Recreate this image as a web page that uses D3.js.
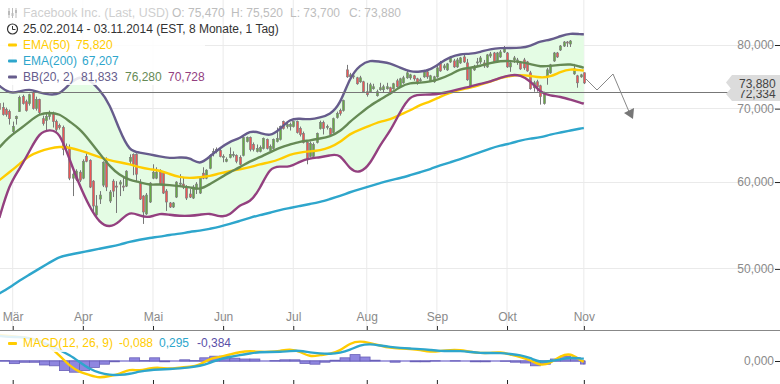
<!DOCTYPE html>
<html>
<head>
<meta charset="utf-8">
<script src="https://d3js.org/d3.v7.min.js"></script>
<style>
  html, body { margin: 0; padding: 0; background: #fff; }
  svg { display: block; }
  text { font-family: "Liberation Sans", Arial, sans-serif; font-size: 12px; }
  .axis path { display: none; }
  .axis text { fill: #8a8a8a; font-size: 12px; }
  .axis line { stroke: #222; }
</style>
</head>
<body>
<script>
// trading days, 0 = 25.02.2014, 175 = 03.11.2014
const monthDays = [4, 25, 46, 67, 88, 110, 131, 152, 175];
const monthLabels = ["Mär", "Apr", "Mai", "Jun", "Jul", "Aug", "Sep", "Okt", "Nov"];
const priceTicks = [80, 70, 60, 50];

const opens = [70.74,70.15,69.85,69.56,66.71,68.54,69.56,71.78,71.03,70.74,
72.38,70.00,71.33,68.54,68.26,68.83,69.27,68.12,67.55,67.27,
64.65,64.52,60.49,60.36,61.25,60.49,63.32,62.80,60.11,56.00,
57.90,59.61,62.67,57.66,60.11,59.49,59.74,59.49,59.49,62.67,
63.59,63.59,59.99,58.26,56.12,57.54,60.49,60.49,61.25,61.25,
58.87,57.42,56.94,58.14,59.74,59.74,59.37,58.51,58.02,59.12,
58.63,61.12,60.49,61.76,63.85,63.99,64.12,63.19,62.67,63.19,
63.46,63.46,63.19,63.46,65.33,65.88,64.92,63.99,63.99,64.39,
65.61,64.12,64.39,65.33,65.61,68.12,67.41,67.41,67.41,68.12,
67.13,66.43,65.20,63.32,63.32,65.20,67.13,67.97,67.27,67.13,
66.57,68.69,69.71,69.71,75.93,74.83,74.83,74.68,74.06,74.06,
72.53,72.53,72.99,71.93,72.84,72.84,72.99,73.14,72.99,74.21,
73.29,73.90,74.68,74.68,74.99,74.52,74.21,74.83,75.62,74.21,
74.06,74.83,77.05,76.25,75.93,77.21,77.37,76.41,77.05,78.02,
77.05,73.44,75.93,77.05,77.21,77.05,76.41,78.18,78.67,77.37,
78.02,78.84,78.67,76.41,77.53,77.21,77.05,77.53,77.21,75.46,
73.14,74.06,73.44,70.74,74.99,75.46,77.37,78.67,79.17,79.83,
80.50,80.17,75.30,74.99,74.83,75.47];
const closes = [69.85,69.12,69.12,68.54,67.41,68.83,71.63,70.74,69.71,72.08,
70.00,71.33,69.41,67.83,68.83,69.41,68.12,66.99,67.27,64.25,
64.39,60.49,61.00,61.38,60.24,62.67,62.67,59.37,57.06,57.06,
58.38,62.54,59.37,58.75,58.87,59.37,59.99,59.37,61.38,63.19,
62.28,61.00,57.90,56.35,58.38,59.86,61.25,61.25,59.74,58.63,
57.54,56.94,57.42,59.99,59.86,59.37,58.02,58.14,59.37,59.74,
60.49,60.49,61.51,63.46,63.99,64.25,63.32,63.32,62.93,63.59,
63.59,62.67,62.28,65.88,65.88,64.25,64.25,64.39,64.52,65.74,
64.39,64.65,65.61,65.74,67.41,67.13,67.69,67.69,68.12,66.57,
66.30,65.20,62.93,65.06,64.92,66.43,67.97,67.13,67.41,66.30,
68.54,69.27,69.27,71.18,74.83,75.14,74.99,73.75,74.68,72.53,
72.08,73.60,73.29,72.53,73.14,73.29,73.29,72.38,73.75,73.29,
74.52,74.68,75.46,75.14,74.52,73.90,74.37,75.62,74.83,74.99,
74.83,76.25,75.77,76.57,76.89,77.86,76.41,77.53,77.86,77.21,
74.37,76.09,76.41,77.21,77.86,76.57,78.35,78.51,77.21,78.67,
78.84,79.50,76.41,77.05,77.86,77.53,76.09,76.25,75.77,72.99,
73.90,73.29,71.78,72.38,75.93,76.73,78.67,78.02,79.83,80.50,
80.33,80.67,76.09,73.90,75.14,73.88];
const highs = [71.33,70.89,70.15,69.85,68.12,68.98,71.93,72.08,71.33,72.23,
72.68,71.78,71.48,68.98,69.27,69.71,69.56,68.40,67.83,67.55,
65.06,64.92,61.25,61.63,61.51,62.93,63.85,62.93,60.24,58.38,
58.87,62.67,63.19,59.00,60.36,60.11,60.24,60.74,61.51,63.59,
63.72,63.72,60.36,58.38,58.63,59.99,62.28,61.89,61.63,61.38,
59.12,57.54,57.54,60.11,61.00,60.62,59.61,59.12,59.61,59.99,
60.62,61.89,61.63,63.59,64.39,64.52,64.39,63.59,63.19,64.52,
63.99,63.59,63.46,66.02,66.02,66.02,65.20,64.92,64.79,65.88,
65.74,64.92,65.74,67.27,67.55,68.26,67.97,67.97,68.26,68.26,
67.41,66.71,65.33,65.33,65.20,66.57,68.26,68.26,67.69,67.27,
68.69,69.56,70.00,71.33,76.73,75.46,75.30,74.83,74.99,74.21,
73.90,73.90,73.75,72.84,73.90,73.60,73.90,73.29,73.90,74.52,
74.68,74.99,75.77,75.30,75.14,74.68,74.68,75.93,75.77,75.14,
74.99,76.57,77.37,76.89,77.05,78.18,77.70,77.86,78.02,78.35,
77.70,76.25,76.73,77.86,78.18,77.53,78.51,78.84,78.84,78.84,
79.17,79.83,78.84,77.53,78.18,77.86,77.37,77.86,77.37,75.77,
74.21,74.37,73.60,72.53,76.25,76.89,78.84,78.84,80.00,80.67,
80.67,80.84,76.89,75.14,75.30,75.52];
const lows = [69.56,68.98,68.83,67.69,66.30,67.69,69.56,70.59,69.56,70.44,
69.85,69.71,69.12,67.55,66.71,68.40,67.27,66.71,66.99,63.46,
63.99,60.24,58.26,60.11,59.99,60.36,62.54,59.24,56.35,55.88,
57.30,59.37,58.87,57.42,58.14,56.23,58.26,58.87,59.37,62.28,
60.87,60.11,57.78,54.95,56.00,57.42,60.36,60.36,59.61,58.51,
56.47,56.82,56.82,58.02,59.37,59.12,57.78,58.02,57.90,58.51,
58.51,60.36,60.36,61.63,63.32,63.72,63.19,62.54,62.54,63.06,
63.19,62.41,62.15,63.32,65.20,63.99,63.99,63.85,63.85,64.25,
64.25,63.99,64.25,65.20,65.47,66.99,67.13,66.85,67.27,66.43,
66.02,65.06,62.28,63.19,63.19,65.06,66.99,66.30,66.99,66.16,
66.43,68.54,68.98,69.56,74.68,74.68,74.52,73.60,73.90,72.38,
71.78,72.38,72.84,71.78,72.68,72.38,72.84,72.08,72.84,73.14,
73.14,73.75,74.52,74.37,74.21,73.60,74.06,74.68,74.52,74.06,
73.90,74.68,75.62,75.93,75.77,77.05,76.25,76.25,76.89,77.05,
74.21,73.29,75.77,76.73,76.89,76.25,76.25,77.86,77.05,77.21,
77.86,78.67,76.25,75.62,77.05,76.73,75.93,75.93,75.62,72.84,
72.53,72.53,70.59,70.59,73.60,75.30,77.21,77.86,79.00,79.67,
79.67,79.67,75.14,73.14,74.68,73.70];

const lineDays = [0,3,6,9,12,15,18,21,24,27,30,33,36,39,42,45,48,51,54,57,
60,63,66,69,72,75,78,81,84,87,90,93,96,99,102,105,108,111,114,117,
120,123,126,129,132,135,138,141,144,147,150,153,156,159,162,165,168,171,174,175];

const ema50 = [60.24,61.25,62.28,63.46,63.99,64.39,64.65,64.52,64.12,63.72,
63.19,62.80,62.54,62.28,61.89,61.63,61.51,61.00,60.62,60.49,
60.62,60.74,61.12,61.38,61.63,61.89,62.28,62.54,62.93,63.59,
63.85,63.99,64.12,64.52,65.20,66.43,66.99,67.55,68.12,68.40,
69.12,69.71,70.59,71.03,71.78,72.38,72.84,73.14,73.60,74.06,
74.68,74.99,75.14,74.99,74.68,74.83,75.62,76.09,75.85,75.82];
const ema200 = [47.48,48.08,48.79,49.40,50.03,50.66,51.30,51.51,51.73,51.94,
52.16,52.38,52.60,52.93,53.15,53.37,53.49,53.71,53.82,54.05,
54.16,54.39,54.62,54.95,55.30,55.65,56.00,56.23,56.59,56.82,
57.06,57.30,57.54,57.90,58.26,58.75,59.12,59.49,59.86,60.24,
60.49,60.87,61.25,61.63,62.15,62.54,62.93,63.46,63.85,64.39,
64.79,65.06,65.47,65.74,65.88,66.30,66.57,66.85,67.13,67.21];
const bbUpper = [73.44,72.23,72.53,72.99,72.38,72.08,72.08,73.75,74.99,74.37,
72.84,70.74,66.85,63.99,63.85,63.59,63.32,63.06,63.19,63.19,
62.15,63.32,64.39,65.33,65.74,66.85,66.57,66.02,66.99,68.54,
68.54,68.40,68.69,69.12,70.59,74.83,76.73,77.53,77.21,77.05,
76.25,75.62,75.62,75.93,77.05,78.02,78.51,78.51,78.84,79.33,
79.50,79.50,79.50,79.83,80.67,80.84,81.51,82.02,81.80,81.83];
const bbMiddle = [64.52,66.02,66.99,68.12,69.27,69.41,69.27,68.12,67.13,65.47,
63.72,62.02,60.87,60.24,59.99,59.61,59.74,59.61,59.49,59.37,
59.00,59.74,60.49,61.25,61.89,62.67,63.19,63.85,64.52,64.92,
65.33,65.47,65.74,66.02,66.71,68.12,69.27,70.44,71.33,72.23,
73.29,73.90,73.90,74.06,74.52,75.14,76.09,76.25,76.57,77.05,
77.37,77.37,77.21,76.89,76.41,76.57,76.73,76.89,76.41,76.28];
const bbLower = [55.65,59.74,61.63,63.99,66.57,66.99,66.71,62.93,59.61,56.94,
55.07,54.50,55.18,56.47,55.88,55.65,56.23,56.00,55.88,55.88,
56.00,56.23,55.77,55.88,57.30,57.42,59.12,61.89,62.02,61.89,
62.67,63.06,63.19,63.46,63.72,61.51,61.12,62.28,64.92,66.71,
69.56,71.93,72.08,72.08,72.23,72.53,72.99,73.29,73.75,74.06,
74.68,75.14,75.14,74.21,72.38,71.93,71.78,71.33,70.89,70.73];

const macdLine = [3.25,3.13,3.00,2.88,2.63,1.75,0.75,-0.63,-1.38,-1.75,
-2.13,-1.88,-1.63,-1.00,-1.25,-0.88,-0.81,-1.00,-0.81,-0.75,
-0.50,0.31,0.50,0.81,1.13,1.25,1.13,1.13,1.25,1.50,
1.19,0.50,0.75,0.88,1.25,2.25,2.50,2.25,1.94,1.63,
1.56,1.50,1.38,1.13,1.25,1.38,1.38,1.13,1.00,1.00,
1.13,0.81,0.50,0.13,-0.63,-0.25,0.63,1.00,0.06,-0.088];
const macdSignal = [3.13,3.00,3.00,2.88,2.50,2.00,1.38,0.75,-0.13,-1.00,
-1.50,-1.75,-1.75,-1.63,-1.31,-1.13,-1.06,-1.00,-0.94,-0.81,
-0.63,-0.25,0.25,0.50,0.75,0.94,1.13,1.13,1.13,1.25,
1.31,1.06,0.94,0.88,1.00,1.38,2.00,2.13,1.94,1.75,
1.63,1.56,1.50,1.38,1.25,1.25,1.25,1.13,1.00,1.00,
1.00,0.88,0.75,0.38,-0.19,0.00,0.19,0.44,0.31,0.295];
const macdHist = [0.05,-0.33,-0.16,-0.16,-0.50,-0.60,-1.20,-1.40,-1.20,-0.80,
-0.40,-0.10,0.00,0.40,0.05,0.40,-0.10,0.00,0.15,0.05,
0.40,0.60,0.60,0.35,0.25,0.25,0.00,0.05,0.15,0.15,
-0.30,-0.40,-0.15,0.10,0.40,0.80,0.50,0.10,0.00,-0.15,
0.00,-0.10,-0.10,0.03,0.00,0.03,0.00,-0.10,-0.10,0.00,
-0.03,-0.15,-0.25,-0.60,-0.40,0.25,0.60,0.40,-0.384,-0.384];

const width = 780;
const height = 384;

const svg = d3.select("body").append("svg")
  .attr("width", width)
  .attr("height", height);

const x = d3.scaleLinear().domain([0, 175]).range([-0.66, 583.84]);
const y = d3.scaleLog().domain([80, 50]).range([45, 268.9]);
const yMacd = d3.scaleLinear().domain([-1, 1]).range([369, 353]);

// grid
svg.append("g").selectAll("line").data(monthDays).enter().append("line")
  .attr("x1", d => x(d)).attr("x2", d => x(d))
  .attr("y1", 0).attr("y2", 326)
  .attr("stroke", "#eaeaea");
svg.append("g").selectAll("line").data(priceTicks).enter().append("line")
  .attr("x1", 0).attr("x2", 775)
  .attr("y1", d => Math.floor(y(d)) + 0.5).attr("y2", d => Math.floor(y(d)) + 0.5)
  .attr("stroke", "#eaeaea");

// bollinger band fill
const bandArea = d3.area()
  .x((d, i) => x(lineDays[i]))
  .y0((d, i) => y(bbLower[i]))
  .y1((d, i) => y(bbUpper[i]))
  .curve(d3.curveBasis);
svg.append("path").datum(lineDays)
  .attr("d", bandArea)
  .attr("fill", "#e4fce4");

// candles
const days = d3.range(opens.length);
const candles = svg.append("g");
candles.selectAll("line").data(days).enter().append("line")
  .attr("x1", d => Math.round(x(d)) + 0.5).attr("x2", d => Math.round(x(d)) + 0.5)
  .attr("y1", d => y(highs[d])).attr("y2", d => y(lows[d]))
  .attr("stroke", "#777");
candles.selectAll("rect").data(days).enter().append("rect")
  .attr("x", d => Math.round(x(d)) - 0.5)
  .attr("width", 2)
  .attr("y", d => y(Math.max(opens[d], closes[d])))
  .attr("height", d => Math.max(1, y(Math.min(opens[d], closes[d])) - y(Math.max(opens[d], closes[d]))))
  .attr("fill", d => closes[d] >= opens[d] ? "#66aa44" : "#ee5555")
  .attr("stroke", "#808080")
  .attr("stroke-width", 0.7);

// indicator lines
function priceLine(values, color, scale) {
  const line = d3.line()
    .x((d, i) => x(lineDays[i]))
    .y(d => scale(d))
    .curve(d3.curveBasis);
  svg.append("path").datum(values)
    .attr("d", line)
    .attr("fill", "none")
    .attr("stroke", color)
    .attr("stroke-width", 2.4);
}
priceLine(ema200, "#2ea6cc", y);
priceLine(ema50, "#ffcc00", y);
priceLine(bbMiddle, "#668a55", y);
priceLine(bbUpper, "#665c8c", y);
priceLine(bbLower, "#93407f", y);

// last price line
svg.append("line")
  .attr("x1", 0).attr("x2", width)
  .attr("y1", Math.floor(y(72.334)) + 0.5).attr("y2", Math.floor(y(72.334)) + 0.5)
  .attr("stroke", "#777");

// projected move
svg.append("polyline")
  .attr("points", "586,79 597,90 613,74 630,114")
  .attr("fill", "none").attr("stroke", "#888");
svg.append("polygon")
  .attr("points", "624,113 634,108 633,119")
  .attr("fill", "#777");

// macd
const histStep = 3;
svg.append("line")
  .attr("x1", 0).attr("x2", x(175) + 1)
  .attr("y1", yMacd(0)).attr("y2", yMacd(0))
  .attr("stroke", "#a9a3e0").attr("stroke-width", 2);
svg.append("g").selectAll("rect").data(macdHist).enter().append("rect")
  .attr("x", (d, i) => x(lineDays[i]))
  .attr("width", (d, i) => (i < lineDays.length - 1 ? lineDays[i + 1] - lineDays[i] : 0.4) * (x(histStep) - x(0)) / histStep)
  .attr("y", d => Math.min(yMacd(d), yMacd(0)))
  .attr("height", d => Math.abs(yMacd(d) - yMacd(0)))
  .attr("fill", "#8f86e0")
  .attr("stroke", "#6a60b8")
  .attr("stroke-width", 0.8);
priceLine(macdLine, "#ffcc00", yMacd);
priceLine(macdSignal, "#2ea6cc", yMacd);

// axes
const num = d => d.toFixed(3).replace(".", ",");
svg.append("g").attr("class", "axis")
  .attr("transform", "translate(0,330)")
  .call(d3.axisTop(x).tickValues(monthDays).tickFormat((d, i) => monthLabels[i]).tickSize(4).tickPadding(5));
svg.append("line").attr("x1", 0).attr("x2", width).attr("y1", 330.5).attr("y2", 330.5).attr("stroke", "#888");
svg.append("g").attr("class", "axis")
  .attr("transform", "translate(0,384)")
  .call(d3.axisTop(x).tickValues(monthDays).tickFormat("").tickSize(4));
svg.append("g").attr("class", "axis")
  .attr("transform", "translate(780,0)")
  .call(d3.axisLeft(y).tickValues(priceTicks).tickFormat(num).tickSize(5).tickPadding(1));
svg.append("g").attr("class", "axis")
  .attr("transform", "translate(780,0)")
  .call(d3.axisLeft(yMacd).tickValues([0]).tickFormat(num).tickSize(5).tickPadding(1));

// price tags
function priceTag(value, top, tall, textY) {
  svg.append("polygon")
    .attr("points", `780,${top} 732,${top} 726,${top + tall / 2} 732,${top + tall} 780,${top + tall}`)
    .attr("fill", "#dcdcdc");
  svg.append("text").attr("x", 739).attr("y", textY).attr("fill", "#444").text(num(value));
}
priceTag(72.334, 87, 14, 98);
priceTag(73.880, 75, 15, 88);

// legend backdrops
svg.append("rect").attr("width", 205).attr("height", 85).attr("fill", "#fff").attr("opacity", 0.85);
svg.append("rect").attr("y", 333).attr("width", 235).attr("height", 19).attr("fill", "#fff").attr("opacity", 0.85);

function label(text, px, py, color, size) {
  svg.append("text").attr("x", px).attr("y", py).attr("fill", color)
    .style("font-size", (size || 12) + "px").text(text);
}
label("Facebook Inc. (Last, USD)", 23, 17, "#cfcfcf", 12.4);
label("O: 75,470", 172, 17, "#bdbdbd");
label("H: 75,520", 231, 17, "#bdbdbd");
label("L: 73,700", 290, 17, "#bdbdbd");
label("C: 73,880", 349, 17, "#bdbdbd");
label("25.02.2014 - 03.11.2014 (EST, 8 Monate, 1 Tag)", 23, 33, "#333");
label("EMA(50)", 23, 49, "#ffcc00");
label("75,820", 76, 49, "#ffcc00");
label("EMA(200)", 23, 65, "#2ea6cc");
label("67,207", 82, 65, "#2ea6cc");
label("BB(20, 2)", 23, 81, "#665c8c");
label("81,833", 81, 81, "#665c8c");
label("76,280", 125, 81, "#668a55");
label("70,728", 168, 81, "#93407f");
label("MACD(12, 26, 9)", 23, 347, "#ffcc00");
label("-0,088", 119, 347, "#ffcc00");
label("0,295", 159, 347, "#2ea6cc");
label("-0,384", 197, 347, "#5a50a8");

// legend swatches
const swatches = [[43.5, "#ffcc00"], [59.5, "#2ea6cc"], [75.5, "#665c8c"], [342, "#ffcc00"]];
svg.append("g").selectAll("rect").data(swatches).enter().append("rect")
  .attr("x", 8).attr("y", d => d[0]).attr("width", 9).attr("height", 3).attr("rx", 1)
  .attr("fill", d => d[1]);

// header icons
svg.append("circle").attr("cx", 12.5).attr("cy", 29).attr("r", 5)
  .attr("fill", "none").attr("stroke", "#333").attr("stroke-width", 1.2);
svg.append("path").attr("d", "M12.5 26V29.5H15.5").attr("fill", "none").attr("stroke", "#333");
svg.append("path").attr("d", "M9 8V18M12.5 8V18M16 8V18").attr("stroke", "#bbb");
svg.append("path").attr("d", "M8 11h2v4h-2zM11.5 13h2v3h-2zM15 10h2v3h-2z").attr("fill", "#bbb");
</script>
</body>
</html>
